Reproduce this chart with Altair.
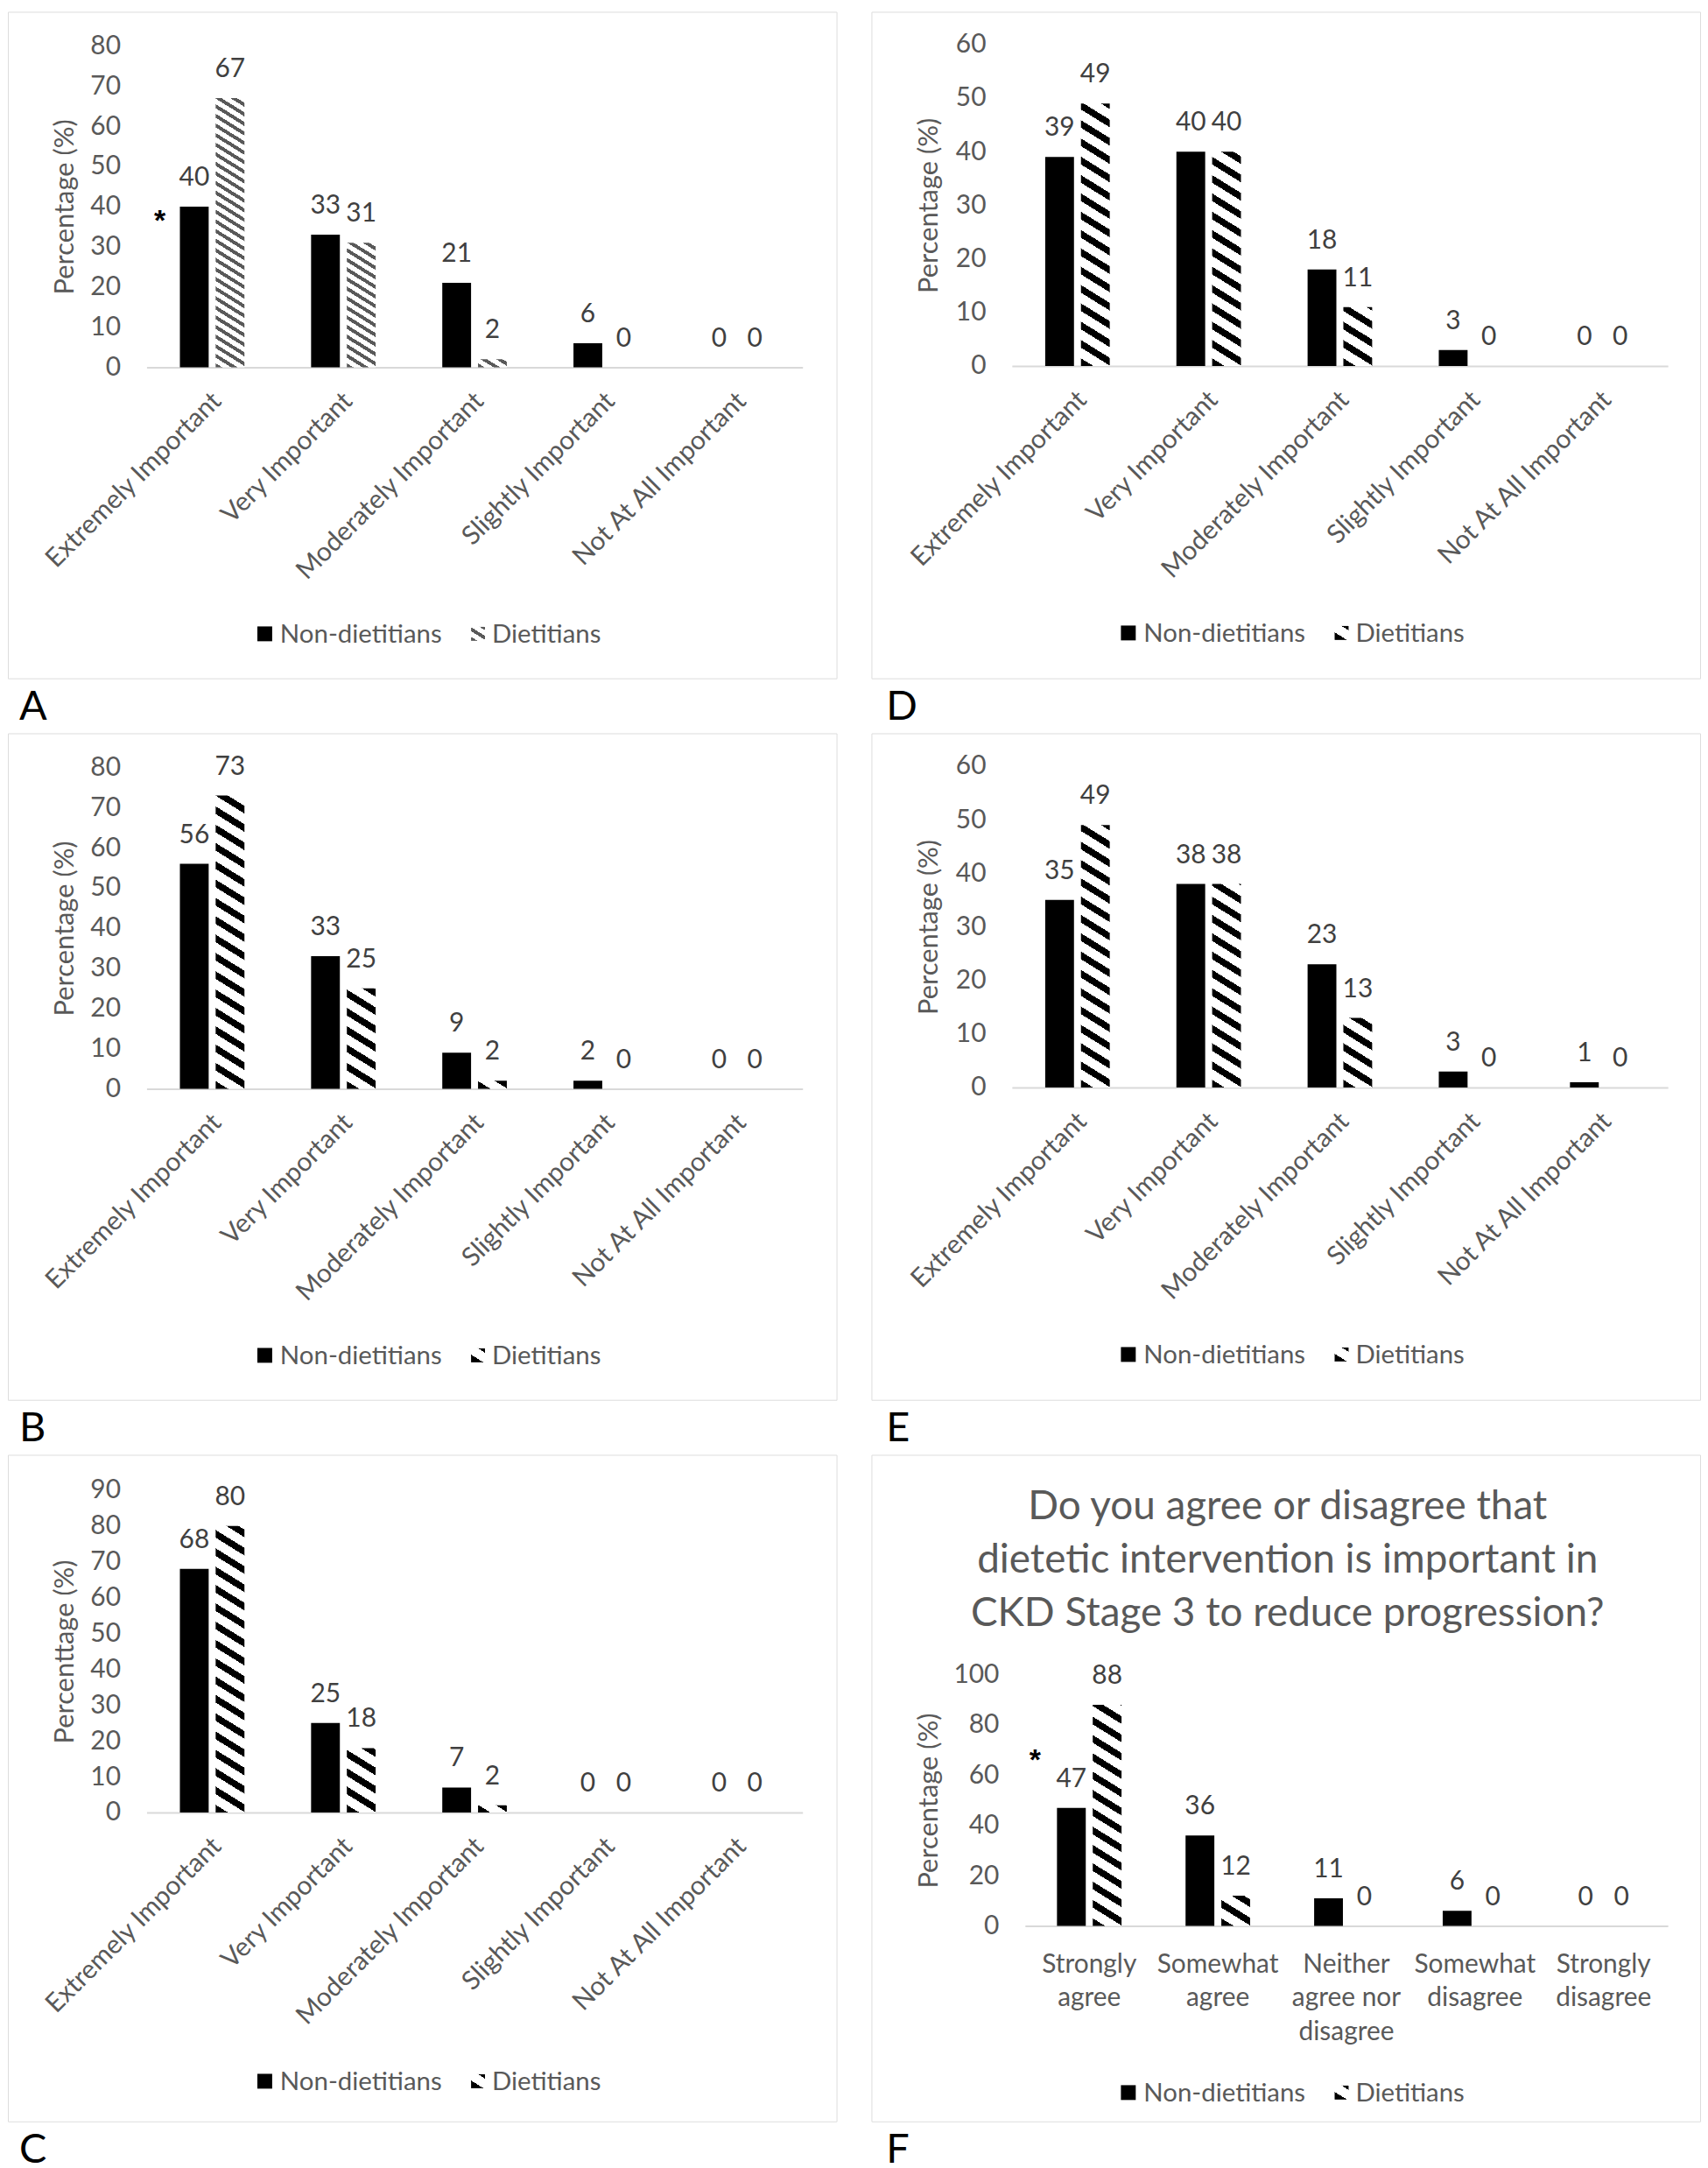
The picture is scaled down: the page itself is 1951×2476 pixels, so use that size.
import altair as alt
import pandas as pd

FONT = "Lato"
LABEL_GRAY = "#595959"
VALUE_GRAY = "#404040"
LINE_GRAY = "#d9d9d9"

# ---------------- data ----------------
importance = ["Extremely Important", "Very Important", "Moderately Important",
              "Slightly Important", "Not At All Important"]
agreement = ["Strongly agree", "Somewhat agree", "Neither agree nor disagree",
             "Somewhat disagree", "Strongly disagree"]
groups = ["Non-dietitians", "Dietitians"]

a_non = [40, 33, 21, 6, 0]
a_diet = [67, 31, 2, 0, 0]
b_non = [56, 33, 9, 2, 0]
b_diet = [73, 25, 2, 0, 0]
c_non = [68, 25, 7, 0, 0]
c_diet = [80, 18, 2, 0, 0]
d_non = [39, 40, 18, 3, 0]
d_diet = [49, 40, 11, 0, 0]
e_non = [35, 38, 23, 3, 1]
e_diet = [49, 38, 13, 0, 0]
f_non = [47, 36, 11, 6, 0]
f_diet = [88, 12, 0, 0, 0]

f_title = ["Do you agree or disagree that",
           "dietetic intervention is important in",
           "CKD Stage 3 to reduce progression?"]

# ---------------- layout constants ----------------
BOX_W, BOX_H = 950, 764
BAR_W = 33
OFF = 20.5
FS = 30          # axis labels and value labels
LEG_FS = 29.5    # legend text


def hatch(w, h, color, period, slope=0.62, frac=0.42):
    """Diagonal stripe fill built from a linear gradient with hard stops."""
    q = slope * w + h
    k = q / (slope ** 2 * w ** 2 + h ** 2)
    n = q / period
    stops = []
    i = 0
    while i < n:
        s0 = min(i / n, 1)
        s1 = min((i + frac) / n, 1)
        s2 = min((i + 1) / n, 1)
        stops += [(s0, color), (s1, color), (s1, "#ffffff"), (s2, "#ffffff")]
        i += 1
    return {"gradient": "linear", "x1": 0, "y1": 1,
            "x2": k * slope * w, "y2": 1 - k * h,
            "stops": [{"offset": round(o, 5), "color": c} for o, c in stops]}


def panel(cats, non, diet, ymax, ystep, ytitle, letter, letter_x, plot,
          stripe_color, stripe_period, legend_y, rotate=True,
          title_lines=None, star=None):
    left, right, top, bottom = plot
    df = pd.DataFrame({
        "category": cats * 2,
        "group": [groups[0]] * len(cats) + [groups[1]] * len(cats),
        "value": non + diet,
    })

    if rotate:
        x_axis = alt.Axis(title=None, labelAngle=-45, labelAlign="right",
                          labelBaseline="top", labelPadding=23, labelOffset=-5,
                          labelFontSize=FS, labelColor=LABEL_GRAY, labelFont=FONT,
                          labelLimit=0, labelOverlap=False, ticks=False,
                          domainColor=LINE_GRAY, domainWidth=2,
                          offset=-(BOX_H - bottom), grid=False)
    else:
        x_axis = alt.Axis(title=None, labelAngle=0, labelAlign="center",
                          labelBaseline="top", labelPadding=29, labelLineHeight=38.5,
                          labelFontSize=FS, labelColor=LABEL_GRAY, labelFont=FONT,
                          labelLimit=0, labelOverlap=False, ticks=False,
                          domainColor=LINE_GRAY, domainWidth=2,
                          offset=-(BOX_H - bottom), grid=False,
                          labelExpr="datum.value == 'Neither agree nor disagree' ? "
                                    "['Neither', 'agree nor', 'disagree'] : split(datum.value, ' ')")
    y_axis = alt.Axis(values=list(range(0, ymax + 1, ystep)), title=ytitle,
                      labelFontSize=FS, labelColor=LABEL_GRAY, labelFont=FONT,
                      labelPadding=30, domain=False, ticks=False, grid=False,
                      titleFontSize=31, titleColor=LABEL_GRAY, titleFont=FONT,
                      titleFontWeight="normal", titleX=66 - left,
                      titleY=(top + bottom) / 2, titleAlign="center",
                      titleBaseline="middle", offset=-left)

    x = alt.X("category:N", sort=cats,
              scale=alt.Scale(domain=cats, range=[left, right],
                              paddingInner=0, paddingOuter=0),
              axis=x_axis)
    y = alt.Y("value:Q", scale=alt.Scale(domain=[0, ymax], range=[bottom, top],
                                         nice=False, zero=True),
              axis=y_axis)

    layers = []
    base = alt.Chart(df)
    layers.append(base.transform_filter(alt.datum.group == groups[0])
                  .mark_bar(width=BAR_W, xOffset=-OFF, color="black")
                  .encode(x=x, y=y))
    px_per = (bottom - top) / ymax
    for c, v in zip(cats, diet):
        if v <= 0:
            continue
        g = hatch(BAR_W, v * px_per, stripe_color, stripe_period)
        layers.append(alt.Chart(alt.Data(values=[{"category": c, "value": v}]))
                      .mark_bar(width=BAR_W, xOffset=OFF, fill=g)
                      .encode(x=x, y=y))
    for grp, off in ((groups[0], -OFF), (groups[1], OFF)):
        layers.append(base.transform_filter(alt.datum.group == grp)
                      .mark_text(xOffset=off, dy=-33, baseline="middle",
                                 fontSize=FS, font=FONT, color=VALUE_GRAY)
                      .encode(x=x, y=y, text=alt.Text("value:Q", format="d")))

    if star is not None:
        sdx, sdy = star
        layers.append(alt.Chart(alt.Data(values=[{"category": cats[0], "value": non[0]}]))
                      .mark_text(text="*", dx=sdx, dy=sdy, baseline="middle",
                                 fontSize=34, font="Liberation Sans", fontWeight="bold",
                                 color="black")
                      .encode(x=x, y=y))

    one = alt.Data(values=[{}])
    # legend
    ly = legend_y
    layers.append(alt.Chart(one).mark_rect(color="black").encode(
        x=alt.value(286), x2=alt.value(303), y=alt.value(ly - 8.5), y2=alt.value(ly + 8.5)))
    layers.append(alt.Chart(one).mark_rect(fill=hatch(16, 16, stripe_color, stripe_period)).encode(
        x=alt.value(531), x2=alt.value(547), y=alt.value(ly - 8), y2=alt.value(ly + 8)))
    layers.append(alt.Chart(one).mark_text(align="left", baseline="alphabetic",
                                           fontSize=LEG_FS, font=FONT, color=LABEL_GRAY).encode(
        x=alt.value(312), y=alt.value(ly + 10), text=alt.value(groups[0])))
    layers.append(alt.Chart(one).mark_text(align="left", baseline="alphabetic",
                                           fontSize=LEG_FS, font=FONT, color=LABEL_GRAY).encode(
        x=alt.value(555), y=alt.value(ly + 10), text=alt.value(groups[1])))

    if title_lines is not None:
        layers.append(alt.Chart(one).mark_text(align="center", baseline="alphabetic",
                                               fontSize=46, lineHeight=61, font=FONT,
                                               color=LABEL_GRAY).encode(
            x=alt.value(BOX_W / 2 + 2), y=alt.value(74), text=alt.value(title_lines)))

    # panel letter
    layers.append(alt.Chart(one).mark_text(align="left", baseline="alphabetic",
                                           fontSize=47, font=FONT, color="black").encode(
        x=alt.value(letter_x), y=alt.value(811), text=alt.value(letter)))

    return alt.layer(*layers).properties(width=BOX_W, height=BOX_H)


pA = panel(importance, a_non, a_diet, 80, 10, "Percentage (%)", "A", 13,
           (159, 911, 39, 407.5), "#595959", 11, 713, star=(-60, 17))
pB = panel(importance, b_non, b_diet, 80, 10, "Percentage (%)", "B", 13,
           (159, 911, 39, 407.5), "black", 21, 713)
pC = panel(importance, c_non, c_diet, 90, 10, "Percenttage (%)", "C", 13,
           (159, 911, 40.5, 410), "black", 21, 718)
pD = panel(importance, d_non, d_diet, 60, 10, "Percentage (%)", "D", 17,
           (161, 913, 37.5, 406), "black", 21, 712)
pE = panel(importance, e_non, e_diet, 60, 10, "Percentage (%)", "E", 17,
           (161, 913, 37.5, 406), "black", 21, 712)
pF = panel(agreement, f_non, f_diet, 100, 20, "Percentage (%)", "F", 17,
           (176, 913, 252, 540), "black", 21, 731, rotate=False,
           title_lines=f_title, star=(-62, -54))

chart = alt.concat(pA, pD, pB, pE, pC, pF, columns=2,
                   spacing={"row": 63, "column": 40}, bounds="flush").properties(
    padding=0, background="white"
).configure_view(stroke=LINE_GRAY, strokeWidth=2).configure(font=FONT)

chart.save("out.html", embed_options={"renderer": "svg", "actions": False})
